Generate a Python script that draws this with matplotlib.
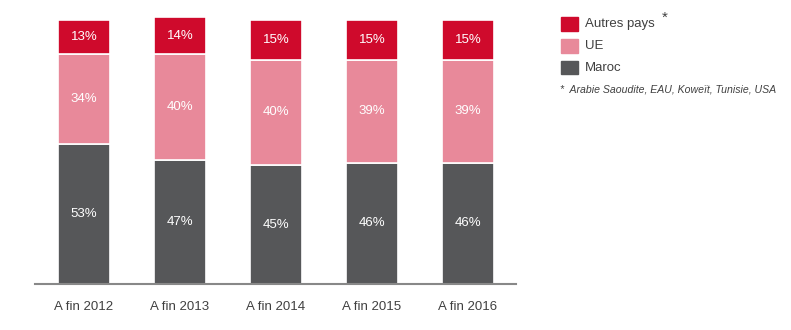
import matplotlib
matplotlib.use("Agg")
import matplotlib.pyplot as plt
import numpy as np
from matplotlib.patches import Rectangle

categories = ["A fin 2012", "A fin 2013", "A fin 2014", "A fin 2015", "A fin 2016"]
maroc = [53, 47, 45, 46, 46]
ue = [34, 40, 40, 39, 39]
autres = [13, 14, 15, 15, 15]
series_names = ["Maroc", "UE", "Autres pays"]
footnote = "*  Arabie Saoudite, EAU, Koweït, Tunisie, USA"

colors = {"Maroc": "#565759", "UE": "#E8899A", "Autres pays": "#CF0A2C"}

plt.rcParams["font.family"] = ["Liberation Sans", "DejaVu Sans"]

fig = plt.figure(figsize=(7.91, 3.30), dpi=100)
ax = fig.add_axes([0.04425, 0.1394, 0.6081, 0.8400])

x = np.arange(len(categories))
w = 0.54
bottom = np.zeros(len(categories))
for name, vals in zip(series_names, [maroc, ue, autres]):
    vals = np.array(vals, dtype=float)
    ax.bar(x, vals, w, bottom=bottom, color=colors[name], edgecolor="white",
           linewidth=1.2, zorder=2)
    for xi, b, v in zip(x, bottom, vals):
        ax.text(xi, b + v / 2, f"{int(v)}%", ha="center", va="center",
                color="white", fontsize=9.5, zorder=3)
    bottom += vals

ax.set_xlim(-0.51, 4.5)
ax.set_ylim(0, 105)
for s in ["top", "right", "left"]:
    ax.spines[s].set_visible(False)
ax.spines["bottom"].set_color("#888888")
ax.spines["bottom"].set_linewidth(1.5)
ax.set_yticks([])
ax.set_xticks(x)
ax.set_xticklabels(categories, fontsize=9.5, color="#404040")
ax.tick_params(axis="x", length=0, pad=12)

# legend
legend_items = [("Autres pays", 24), ("UE", 46), ("Maroc", 68)]
for name, yc in legend_items:
    fy = 1 - yc / 330
    fig.patches.append(Rectangle((561 / 791, fy - 6.5 / 330), 17 / 791, 13 / 330,
                                 transform=fig.transFigure, color=colors[name]))
    fig.text(585 / 791, fy, name, fontsize=9.5, color="#404040", va="center", ha="left")
fig.text(662 / 791, 1 - 18 / 330, "*", fontsize=11, color="#404040", va="center", ha="left")
fig.text(560 / 791, 1 - 90 / 330, footnote, fontsize=7.6, color="#404040",
         style="italic", va="center", ha="left")

fig.savefig("out.png", dpi=100)
